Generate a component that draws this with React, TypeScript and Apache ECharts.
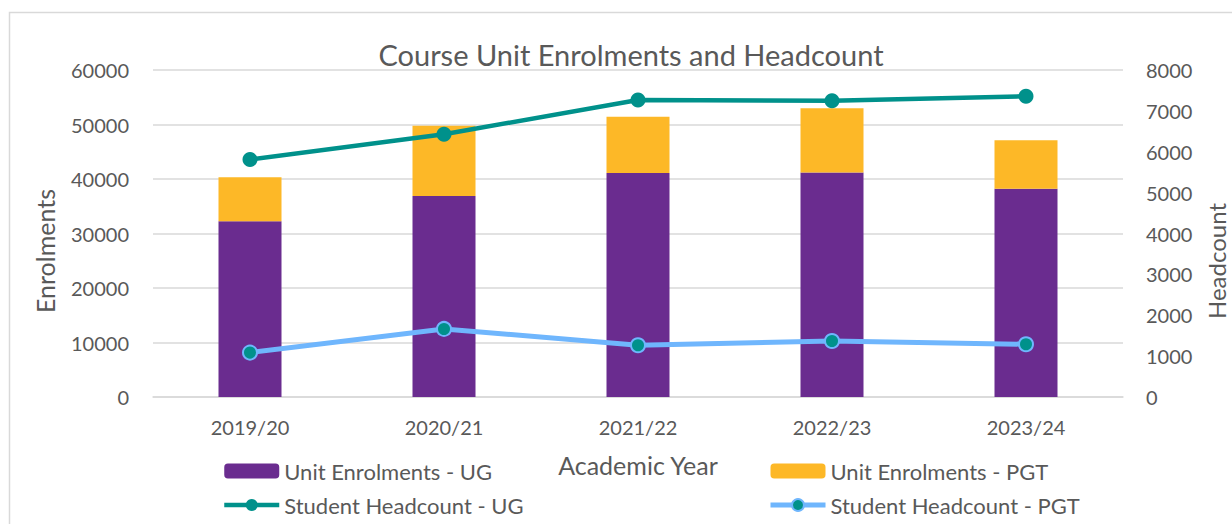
import React, { useEffect, useRef } from "react";
import * as echarts from "echarts";

const categories = ["2019/20", "2020/21", "2021/22", "2022/23", "2023/24"];
const enrolUG = [32270, 36860, 41080, 41210, 38200];
const enrolPGT = [8030, 12910, 10340, 11760, 8890];
const headUG = [5810, 6430, 7265, 7250, 7355];
const headPGT = [1087, 1665, 1266, 1371, 1290];

const FONT = "Lato, 'Open Sans', sans-serif";
const GREY = "#595959";

export default function App() {
  const ref = useRef<HTMLDivElement>(null);
  useEffect(() => {
    if (!ref.current) return;
    const chart = echarts.init(ref.current, undefined, { renderer: "svg" });
    const plain = (v: number) => String(v);
    chart.setOption({
      animation: false,
      backgroundColor: "#fff",
      textStyle: { fontFamily: FONT, color: GREY },
      title: {
        text: "Course Unit Enrolments and Headcount",
        left: 626,
        top: 35,
        textAlign: "center",
        textStyle: { fontFamily: FONT, fontSize: 29, fontWeight: "normal", color: GREY },
      },
      graphic: [
        {
          type: "rect",
          shape: { x: 9.5, y: 12.5, width: 1400, height: 700 },
          style: { fill: "none", stroke: "#d9d9d9", lineWidth: 1.5 },
          silent: true,
        },
        {
          type: "text",
          x: 45,
          y: 251,
          rotation: Math.PI / 2,
          style: {
            text: "Enrolments",
            align: "center",
            verticalAlign: "middle",
            font: `25px ${FONT}`,
            fill: GREY,
          },
          silent: true,
        },
        {
          type: "text",
          x: 1216,
          y: 261,
          rotation: Math.PI / 2,
          style: {
            text: "Headcount",
            align: "center",
            verticalAlign: "middle",
            font: `24px ${FONT}`,
            fill: GREY,
          },
          silent: true,
        },
      ],
      grid: { left: 153, right: 109, top: 70, bottom: 127 },
      legend: [
        {
          orient: "vertical",
          left: 217,
          top: 455,
          itemGap: 12,
          itemWidth: 55,
          itemHeight: 15,
          lineStyle: { width: "inherit" },
          textStyle: { fontFamily: FONT, fontSize: 22, color: GREY },
          data: ["Unit Enrolments - UG", "Student Headcount - UG"],
        },
        {
          orient: "vertical",
          left: 763,
          top: 455,
          itemGap: 12,
          itemWidth: 55,
          itemHeight: 15,
          lineStyle: { width: "inherit" },
          textStyle: { fontFamily: FONT, fontSize: 22, color: GREY },
          data: ["Unit Enrolments - PGT", "Student Headcount - PGT"],
        },
      ],
      xAxis: {
        type: "category",
        data: categories,
        name: "Academic Year",
        nameLocation: "middle",
        nameGap: 55,
        nameTextStyle: { fontFamily: FONT, fontSize: 25, color: GREY },
        axisLine: { show: true, lineStyle: { color: "#d9d9d9", width: 1.5 } },
        axisTick: { show: false },
        axisLabel: { fontFamily: FONT, fontSize: 20, color: GREY, margin: 20 },
      },
      yAxis: [
        {
          type: "value",
          min: 0,
          max: 60000,
          interval: 10000,
          axisLine: { show: false },
          axisTick: { show: false },
          axisLabel: { fontFamily: FONT, fontSize: 20, color: GREY, margin: 24, formatter: plain },
          splitLine: { lineStyle: { color: "#d9d9d9", width: 1.5 } },
        },
        {
          type: "value",
          min: 0,
          max: 8000,
          interval: 1000,
          axisLine: { show: false },
          axisTick: { show: false },
          axisLabel: { fontFamily: FONT, fontSize: 20, color: GREY, margin: 23, formatter: plain },
          splitLine: { show: false },
        },
      ],
      series: [
        {
          name: "Unit Enrolments - UG",
          type: "bar",
          stack: "enrol",
          barWidth: 63,
          data: enrolUG,
          itemStyle: { color: "#6a2c8f" },
        },
        {
          name: "Unit Enrolments - PGT",
          type: "bar",
          stack: "enrol",
          barWidth: 63,
          data: enrolPGT,
          itemStyle: { color: "#fdb827" },
        },
        {
          name: "Student Headcount - UG",
          type: "line",
          yAxisIndex: 1,
          data: headUG,
          symbol: "circle",
          symbolSize: 15,
          lineStyle: { color: "#00918b", width: 4.5 },
          itemStyle: { color: "#00918b", borderColor: "#00918b", borderWidth: 0 },
        },
        {
          name: "Student Headcount - PGT",
          type: "line",
          yAxisIndex: 1,
          data: headPGT,
          symbol: "circle",
          symbolSize: 14,
          lineStyle: { color: "#6fb6fd", width: 5 },
          itemStyle: { color: "#00918b", borderColor: "#6fb6fd", borderWidth: 2 },
        },
      ],
    });
    return () => chart.dispose();
  }, []);
  return (
    <div
      ref={ref}
      style={{ position: "absolute", left: 0, top: 0, width: 1232, height: 524 }}
    />
  );
}
